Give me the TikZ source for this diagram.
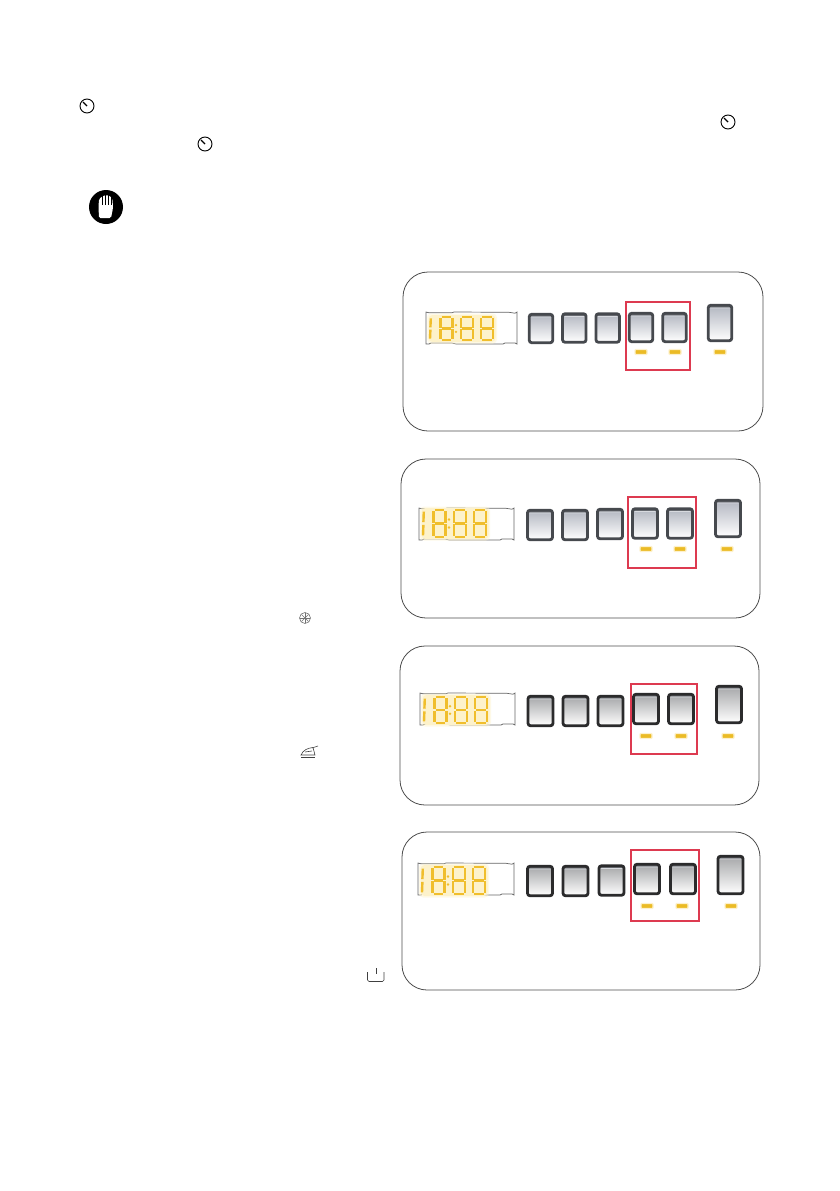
\documentclass[tikz,border=0pt]{standalone}
\usepackage{tikz}
\usetikzlibrary{positioning}
\definecolor{lcdyellow}{HTML}{F0BE2C}
\definecolor{lcdglow}{HTML}{FDF2CB}
\definecolor{ledyellow}{HTML}{EBBB25}
\definecolor{ledglow}{HTML}{FDF1CC}
\definecolor{redmark}{HTML}{DD3A50}
\definecolor{btnedge}{HTML}{46494E}
\definecolor{btntop}{HTML}{B2B6C0}
\definecolor{btnband}{HTML}{6C6F75}
\definecolor{btnline}{HTML}{D8DADF}
\definecolor{darkedge}{HTML}{2B2B2C}
\definecolor{darktop}{HTML}{A6A7A9}
\tikzset{
  panelframe/.style={draw=black!70,line width=.8pt,rounded corners=25pt},
  redbox/.style={draw=redmark,line width=1.1pt},
  lcdline/.style={draw=black!60,line width=.7pt,fill=white},
  lcdseg/.style={draw=lcdyellow,line width=2.4pt},
  lcdhalo/.style={fill=lcdglow,rounded corners=4pt},
  btn/.style={draw=btnedge,line width=2.8pt,rounded corners=2.5pt,top color=btntop,bottom color=white,inner sep=0pt,
    path picture={\fill[btnband] (path picture bounding box.north west) rectangle ([yshift=-2.4pt]path picture bounding box.north east);
      \fill[btnline] ([yshift=-2.4pt]path picture bounding box.north west) rectangle ([yshift=-3.1pt]path picture bounding box.north east);}},
  darkbtn/.style={btn,draw=darkedge,top color=darktop,bottom color=white},
  led/.style={draw=ledglow,line width=1.2pt,fill=ledyellow,inner sep=0pt,minimum width=12pt,minimum height=5pt,rounded corners=.8pt},
  dial/.style={draw=black,line width=.9pt},
  dialhand/.style={draw=black,line width=1.4pt},
  thinicon/.style={draw=black!75,line width=.6pt}
}
% one seven segment figure, all bars lit
\newcommand{\lcdeight}[3]{
  \begin{scope}[shift={(#1,#2)},yscale=#3/24]
    \foreach \ya in {0,12,24} \draw[lcdseg] (1.2,\ya) -- (10.8,\ya);
    \foreach \xa in {0,12} {
      \draw[lcdseg] (\xa,1) -- (\xa,11.2);
      \draw[lcdseg] (\xa,12.8) -- (\xa,23);
    }
  \end{scope}
}
% left, top, width, top of the figures, height of the figures
\newcommand{\lcddisplay}[5]{
  \begin{scope}[shift={(#1,#2)}]
    \draw[lcdline] (0,0) -- (3,.8) -- (26,.8) -- (28,0) -- (#3-8,.3) -- (#3-2,1.2) -- (#3,0) -- (#3,32)
      -- (#3-2,31) -- (#3-12,31) -- (#3-14,32) -- (30,32) -- (26,31) -- (5,31) -- (3,32) -- (0,32) -- cycle;
    \fill[lcdhalo,opacity=.45] (1,#4-3.5) rectangle (71,#4+#5+3.5);
    \fill[lcdhalo] (2.5,#4-2) rectangle (69.5,#4+#5+2);
    \begin{scope}[shift={(0,#4)},yscale=#5/24]
      \draw[lcdseg] (4.8,1.5) -- (4.4,10.8);
      \draw[lcdseg] (4.4,13.2) -- (4,22.5);
      \fill[lcdyellow] (30,8.5) circle (1.3);
      \fill[lcdyellow] (30,15.5) circle (1.3);
    \end{scope}
    \lcdeight{14.5}{#4}{#5}
    \lcdeight{35}{#4}{#5}
    \lcdeight{55}{#4}{#5}
  \end{scope}
}
\begin{document}
\begin{tikzpicture}[x=1pt,y=-1pt]
  \useasboundingbox (0,0) rectangle (839,1191);

  \draw[dial] (87,106) circle (7);
  \draw[dialhand] (87,106) -- (83,102);
  \draw[dial] (728,122) circle (7);
  \draw[dialhand] (728,122) -- (724,118);
  \draw[dial] (205,144) circle (7);
  \draw[dialhand] (205,144) -- (201,140);

  \fill[black] (106,207) circle (17);
  \fill[white,rounded corners=1.5pt] (99,218) -- (98.5,207) -- (99,199) -- (101.5,197) -- (104,195.5) -- (107,195) -- (110,196) -- (112.5,199) -- (113,208) -- (111,218) -- cycle;
  \foreach \xa in {102.5,105.5,108.5,111} \draw[black,line width=.6pt] (\xa,195) -- (\xa,204.5);

  \draw[thinicon,draw=black!55] (305,618) circle (5.5);
  \foreach \xa in {0,45,90,135} \draw[thinicon,draw=black!55,rotate around={\xa:(305,618)}] (300,618) -- (310,618);
  \draw[thinicon] (301,755) .. controls (303,750) and (308,748) .. (313,747.5) -- (315,755) -- cycle;
  \draw[thinicon] (312,748) -- (318,746);
  \draw[thinicon] (305,752) -- (312,751);
  \draw[thinicon] (301,757.5) -- (315,757.5);
  \draw[thinicon,rounded corners=1.5pt] (367.5,972) -- (367.5,981.5) -- (384,981.5) -- (384,972);
  \draw[thinicon] (376,968) -- (376,974);

  \draw[panelframe] (403,272) rectangle (763,431);
  \lcddisplay{426}{312}{91}{5}{23}
  \foreach \i/\xa/\ya in {1/541/328.5,2/574.3/328,3/607.7/328,4/641/327.5,5/674.5/327.5}
    \node[btn,minimum width=23.5pt,minimum height=28.5pt] (a\i) at (\xa,\ya) {};
  \node[btn,minimum width=23.5pt,minimum height=35.5pt] (a6) at (720,323) {};
  \foreach \i/\xa in {4/641,5/675,6/720}
    \node[led] (la\i) at (\xa,352) {};
  \draw[redbox] (626,302) rectangle (690,370);

  \draw[panelframe] (401,459) rectangle (760,618);
  \lcddisplay{419}{508}{95}{2}{27}
  \foreach \i/\xa/\ya in {1/540/525,2/575/525,3/610/524,4/645/523.5,5/680/523.5}
    \node[btn,minimum width=25pt,minimum height=29.5pt] (b\i) at (\xa,\ya) {};
  \node[btn,minimum width=25pt,minimum height=36.5pt] (b6) at (728,518.5) {};
  \foreach \i/\xa in {4/646,5/680,6/727}
    \node[led] (lb\i) at (\xa,549) {};
  \draw[redbox] (628,497) rectangle (696,568);

  \draw[panelframe] (400,646) rectangle (759,805);
  \lcddisplay{420}{693}{95}{4}{26}
  \foreach \i/\xa/\ya in {1/540.5/711,2/575.5/711,3/610.5/711,4/646/709,5/681/709}
    \node[darkbtn,minimum width=25pt,minimum height=29.5pt] (c\i) at (\xa,\ya) {};
  \node[darkbtn,minimum width=25pt,minimum height=36.5pt] (c6) at (729,704.5) {};
  \foreach \i/\xa in {4/646,5/681,6/728}
    \node[led] (lc\i) at (\xa,736) {};
  \draw[redbox] (631,684) rectangle (697,754);

  \draw[panelframe] (402,832) rectangle (760,990);
  \lcddisplay{418}{863}{96}{4}{27}
  \foreach \i/\xa/\ya in {1/540/881,2/575.5/881,3/611.5/880.5,4/647/879,5/683/879}
    \node[darkbtn,minimum width=25pt,minimum height=29.5pt] (d\i) at (\xa,\ya) {};
  \node[darkbtn,minimum width=25pt,minimum height=37.5pt] (d6) at (730.5,875) {};
  \foreach \i/\xa in {4/647,5/682,6/731}
    \node[led] (ld\i) at (\xa,906) {};
  \draw[redbox] (631,850) rectangle (699,921);
\end{tikzpicture}
\end{document}
